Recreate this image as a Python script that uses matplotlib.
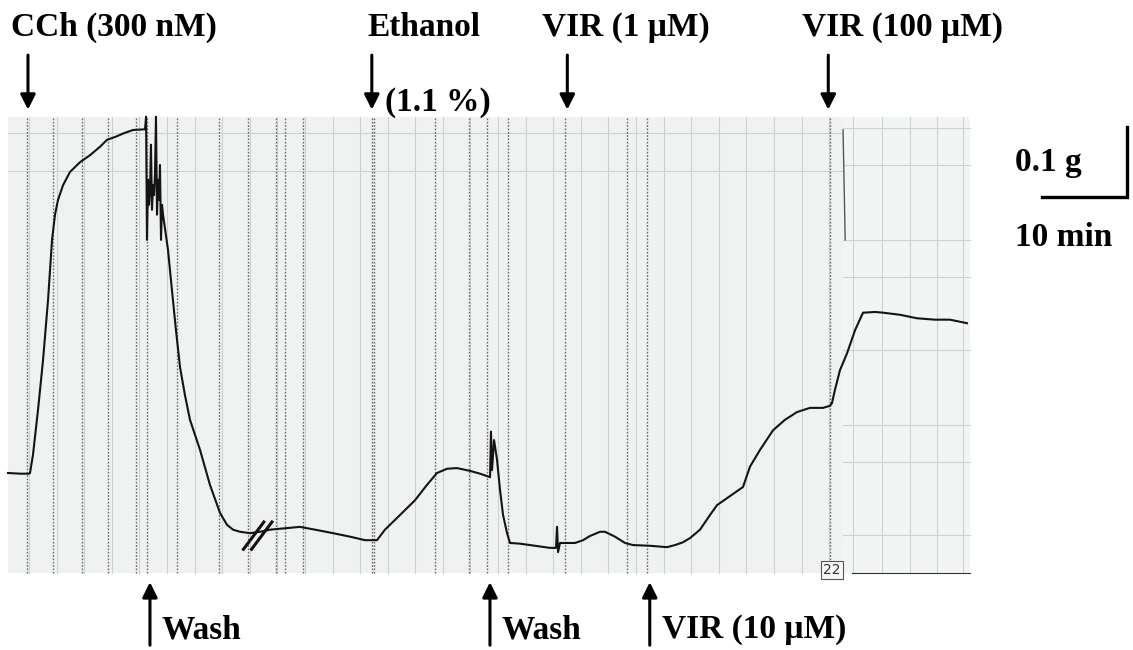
import numpy as np
import matplotlib
matplotlib.use("Agg")
import matplotlib.pyplot as plt
from matplotlib.patches import Rectangle

plt.rcParams['font.family'] = ['Liberation Serif', 'DejaVu Serif']

# isometric tension trace: time (min) and tension (g, relative to resting baseline)
trace_t = [0.0, 1.41, 2.47, 2.59, 2.94, 3.53, 4.12, 4.71, 5.18, 5.53, 5.88, 6.47, 7.29,
           8.47, 9.65, 10.82, 11.65, 12.59, 13.76, 14.71, 16.12, 16.24, 16.35, 16.47,
           16.59, 16.71, 16.82, 16.94, 17.06, 17.18, 17.29, 17.41, 17.53, 17.65, 17.76,
           17.88, 18.0, 18.12, 18.24, 18.82, 19.29, 19.76, 20.24, 20.82, 21.41, 22.59,
           23.76, 24.94, 25.76, 26.47, 27.29, 28.47, 29.65, 30.82, 32.59, 34.35, 36.12,
           38.24, 40.24, 42.0, 43.41, 44.35, 46.12, 47.88, 49.29, 50.47, 51.65, 52.82,
           54.35, 55.53, 56.71, 56.82, 56.94, 57.18, 57.53, 57.88, 58.24, 58.71, 59.06,
           60.24, 62.0, 63.76, 64.47, 64.59, 64.71, 64.94, 65.76, 66.71, 67.65, 68.47,
           69.65, 70.24, 71.41, 72.59, 73.53, 75.53, 77.53, 78.47, 79.41, 80.24, 81.41,
           82.59, 83.41, 84.94, 86.47, 87.29, 88.47, 90.0, 91.41, 92.82, 94.35, 95.88,
           96.71, 96.94, 97.29, 97.88, 98.71, 99.65, 100.59, 102.0, 102.94, 104.94,
           106.94, 109.06, 110.82, 112.82]
trace_g = [0.000, -0.001, -0.001, 0.000, 0.026, 0.090, 0.161, 0.247, 0.333, 0.369, 0.390,
           0.411, 0.430, 0.444, 0.454, 0.466, 0.476, 0.480, 0.486, 0.490, 0.491, 0.509,
           0.333, 0.419, 0.383, 0.404, 0.469, 0.376, 0.411, 0.397, 0.426, 0.509, 0.369,
           0.419, 0.390, 0.440, 0.333, 0.383, 0.369, 0.319, 0.261, 0.204, 0.151, 0.111,
           0.076, 0.033, -0.017, -0.057, -0.074, -0.081, -0.084, -0.086, -0.084, -0.081,
           -0.079, -0.077, -0.081, -0.086, -0.091, -0.096, -0.096, -0.081, -0.060, -0.039,
           -0.017, 0.000, 0.006, 0.007, 0.003, -0.001, -0.006, 0.059, 0.004, 0.047, 0.019,
           -0.024, -0.060, -0.086, -0.100, -0.101, -0.104, -0.107, -0.107, -0.077, -0.113,
           -0.100, -0.100, -0.100, -0.096, -0.090, -0.084, -0.084, -0.091, -0.100, -0.103,
           -0.104, -0.106, -0.103, -0.099, -0.093, -0.081, -0.060, -0.046, -0.033, -0.020,
           0.009, 0.033, 0.061, 0.076, 0.087, 0.093, 0.093, 0.096, 0.100, 0.119, 0.147,
           0.171, 0.204, 0.229, 0.230, 0.229, 0.226, 0.221, 0.219, 0.219, 0.214]

# drug additions above the trace
top_labels = ['CCh (300 nM)', 'Ethanol', 'VIR (1 μM)', 'VIR (100 μM)']
top_times = [2.35, 42.8, 65.8, 96.5]
top_text_x = [0.3, 42.3, 62.8, 93.4]

# additions below the trace
bottom_labels = ['Wash', 'Wash', 'VIR (10 μM)']
bottom_times = [16.7, 56.7, 75.5]

# chart-recorder event marks (dotted lines on the paper)
event_marks = [2.24, 5.29, 8.71, 11.76, 15.06, 16.35, 19.88, 24.82, 28.24, 31.53, 32.59,
               34.71, 42.82, 43.06, 50.24, 54.24, 56.35, 58.82, 65.53, 72.82, 75.18, 96.71]

break_t, break_g = 28.9, -0.086
paper_t = (0.0, 113.18)
paper_g = (-0.143, 0.509)
splice_t = 98.24

fig = plt.figure(figsize=(11.33, 6.5), dpi=100)
ax = fig.add_axes([0, 0, 1, 1])
ax.set_xlim(-0.941, 132.35)
ax.set_ylim(-0.2529, 0.6757)
ax.axis('off')

# recorder paper, with the spliced piece on the right
paper = Rectangle((paper_t[0], paper_g[0]), paper_t[1] - paper_t[0], paper_g[1] - paper_g[0],
                  facecolor='#f0f2f2', edgecolor='none', zorder=0)
ax.add_patch(paper)
ax.add_patch(Rectangle((splice_t, paper_g[0]), paper_t[1] - splice_t, paper_g[1] - paper_g[0],
                       facecolor='#f3f5f5', edgecolor='none', zorder=0.5))

grid_kw = dict(color='#cdd1d1', lw=0.8, zorder=1)
for t in np.arange(2.47, splice_t, 3.246):
    ax.plot([t, t], paper_g, **grid_kw)
for g in [0.486, 0.431]:
    ax.plot([paper_t[0], splice_t], [g, g], **grid_kw)
for t in [99.4, 102.8, 106.1, 109.3, 112.4]:
    ax.plot([t, t], paper_g, **grid_kw)
for g in [0.493, 0.440, 0.333, 0.280, 0.176, 0.069, 0.016, -0.089]:
    ax.plot([splice_t, paper_t[1]], [g, g], **grid_kw)
ax.plot([splice_t, splice_t + 0.25], [0.49, 0.333], color='#555555', lw=1.0, zorder=1.5)

for t in event_marks:
    ax.plot([t, t], paper_g, color='#6a6a6a', lw=1.0, ls=(0, (1.2, 1.2)), zorder=2)

ax.plot(trace_t, trace_g, color='#141414', lw=1.5, zorder=4)

# time-break mark on the wash baseline
for dt in (0.0, 0.95):
    ax.plot([break_t - 1.2 + dt, break_t + 1.2 + dt], [break_g - 0.023, break_g + 0.016],
            color='#111111', lw=2.2, zorder=5)

tag = ax.text(96.9, -0.139, '22', fontsize=10, ha='center', va='center', color='#333333',
              family='DejaVu Sans', zorder=3,
              bbox=dict(boxstyle='square,pad=0.15', fc='#f7f7f7', ec='#555555', lw=0.8))
tag.set_clip_path(paper)
ax.plot([splice_t + 1.0, paper_t[1]], [paper_g[0], paper_g[0]], color='#333333', lw=0.8, zorder=3)

font = dict(fontsize=24, fontweight='bold', color='black')
arrow = dict(arrowstyle='-|>,head_length=0.9,head_width=0.45', color='black', lw=2.2,
             shrinkA=0, shrinkB=0)

for label, t, tx in zip(top_labels, top_times, top_text_x):
    ax.text(tx, 0.636, label, ha='left', va='center', **font)
    ax.annotate('', xy=(t, 0.519), xytext=(t, 0.597), arrowprops=arrow)
ax.text(44.35, 0.529, '(1.1 %)', ha='left', va='center', **font)

for label, t in zip(bottom_labels, bottom_times):
    ax.annotate('', xy=(t, -0.156), xytext=(t, -0.246), arrowprops=arrow)
    ax.text(t + 1.4, -0.224, label, ha='left', va='center', **font)

# calibration bar: 0.1 g vertical, 10 min horizontal
bar_t, bar_g = 131.65, 0.394
ax.plot([bar_t - 10, bar_t, bar_t], [bar_g, bar_g, bar_g + 0.1], color='black', lw=2.4,
        solid_joinstyle='miter')
ax.text(118.5, 0.444, '0.1 g', ha='left', va='center', **font)
ax.text(118.5, 0.336, '10 min', ha='left', va='center', **font)

fig.savefig('out.png', dpi=100, facecolor='white')
